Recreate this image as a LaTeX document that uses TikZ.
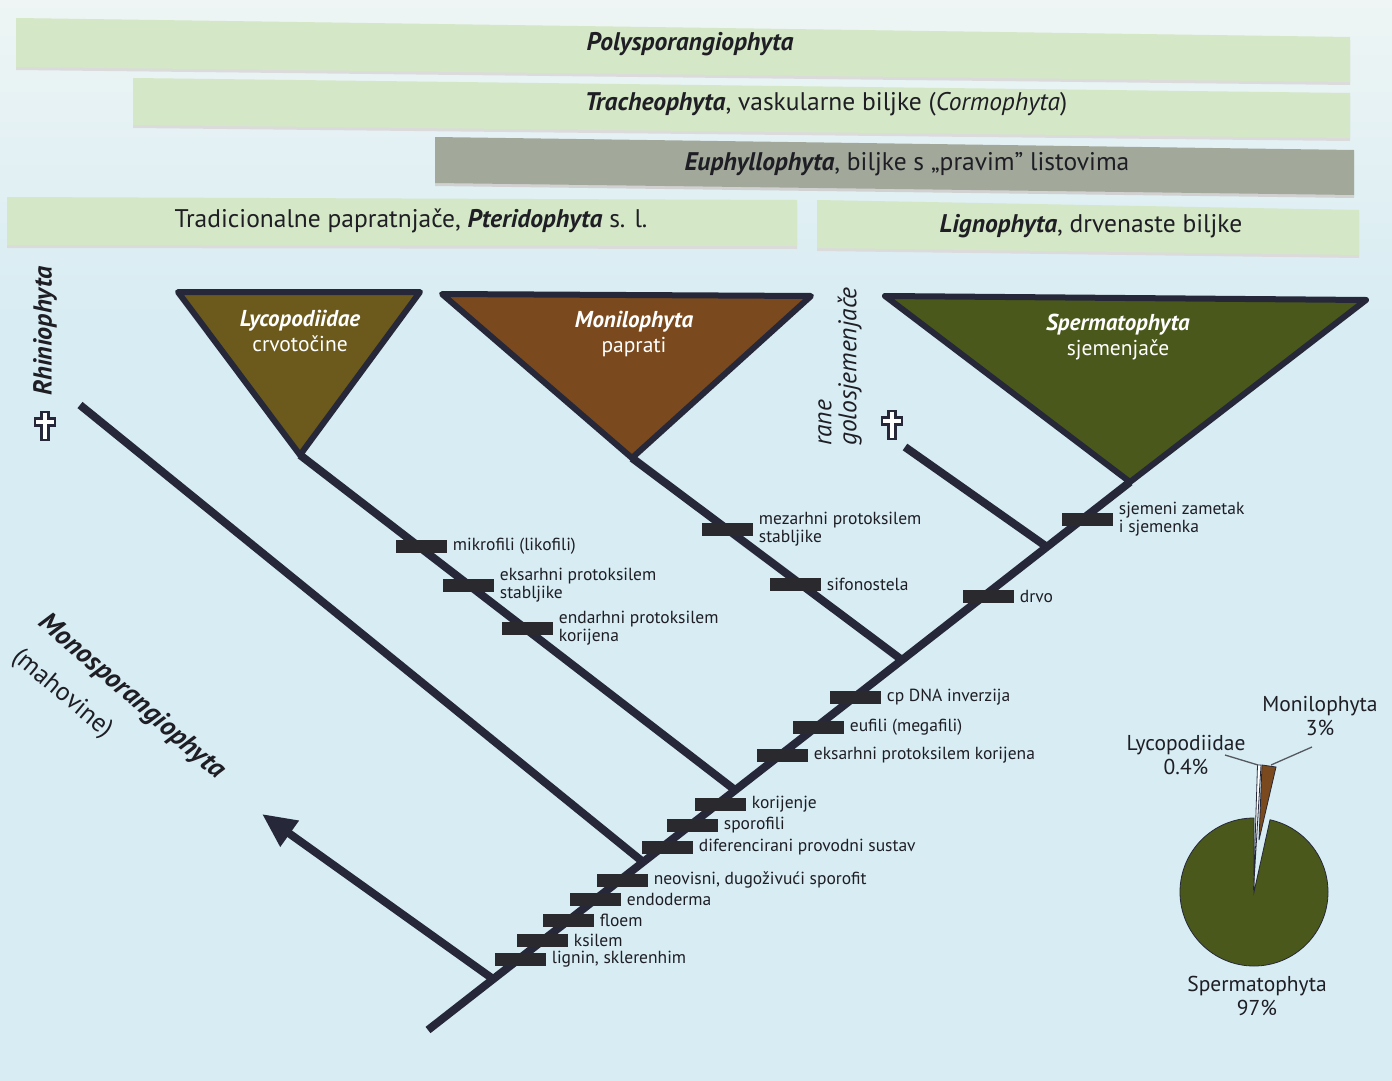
\documentclass[tikz,border=0pt]{standalone}
\usepackage{fontspec}
\setmainfont{PT Sans}
\usetikzlibrary{arrows.meta}
\definecolor{bgtop}{HTML}{EEF5F4}
\definecolor{bgbot}{HTML}{D7ECF3}
\definecolor{barg}{HTML}{D4E7C6}
\definecolor{bargd}{HTML}{A2A99B}
\definecolor{ink}{HTML}{26283A}
\definecolor{synk}{HTML}{2A2A2E}
\definecolor{lyc}{HTML}{6B5A1C}
\definecolor{mon}{HTML}{7A4A1E}
\definecolor{spe}{HTML}{4A591B}
\definecolor{txt}{HTML}{1E1E24}
\definecolor{lead}{HTML}{55585E}
\tikzset{
  bartext/.style={font=\fontsize{25.5}{28}\selectfont, text=txt, inner sep=0pt},
  tritext/.style={font=\fontsize{22}{25.5}\selectfont, text=white, align=center, inner sep=0pt},
  branch/.style={draw=ink, line width=8pt},
  tri/.style={draw=ink, line width=6pt, line join=round},
  syn/.style={fill=synk, minimum width=51pt, minimum height=13pt, inner sep=0pt},
  lbl/.style={font=\fontsize{17.5}{18}\selectfont, text=txt, align=left, inner sep=0pt, anchor=west},
  pietext/.style={font=\fontsize{21.5}{24}\selectfont, text=txt, align=center, inner sep=0pt},
  sidetext/.style={font=\fontsize{26}{28}\selectfont, text=txt, inner sep=0pt},
  grob/.pic={\filldraw[fill=white, draw=ink, line width=2.2pt]
    (-3.5,-14) -- (3.5,-14) -- (3.5,-7.5) -- (10,-7.5) -- (10,-0.5) -- (3.5,-0.5) -- (3.5,14) -- (-3.5,14)
    -- (-3.5,-0.5) -- (-10,-0.5) -- (-10,-7.5) -- (-3.5,-7.5) -- cycle;}
}
\newcommand\synap[3]{%
  \node[syn] (#1) at (#2) {};
  \node[lbl] (#1t) at ([xshift=6pt]#1.east) {#3};}
\newcommand\tribi[1]{{\fontsize{23}{25.5}\selectfont\bfseries\itshape #1}}
\newcommand\trire[1]{{\fontsize{21.5}{25.5}\selectfont #1}}
\begin{document}
\begin{tikzpicture}[x=1pt,y=-1pt]
\useasboundingbox (0,0) rectangle (1392,1081);
\fill[bgbot] (0,0) rectangle (1392,1081);
\shade[top color=bgtop, bottom color=bgbot] (0,0) rectangle (1392,330);

% ---- top bands ----
\fill[black!14] (16,21) -- (1350,40) -- (1350,85) -- (16,70) -- cycle;
\fill[barg] (16,18) -- (1350,37) -- (1350,82) -- (16,67) -- cycle;
\node[bartext] (poly) at (690,44) {\bfseries\itshape Polysporangiophyta};

\fill[black!14] (133,81) -- (1350,96) -- (1350,141) -- (133,128) -- cycle;
\fill[barg] (133,78) -- (1350,93) -- (1350,138) -- (133,125) -- cycle;
\node[bartext] (trach) at (826,104) {\textbf{\textit{Tracheophyta}}, vaskularne biljke (\textit{Cormophyta})};

\fill[black!18] (435,140) -- (1354,153) -- (1354,198) -- (435,186) -- cycle;
\fill[bargd] (435,137) -- (1354,150) -- (1354,195) -- (435,183) -- cycle;
\node[bartext] (euph) at (907,164) {\textbf{\textit{Euphyllophyta}}, biljke s „pravim” listovima};

\fill[black!14] (7,200) -- (797,203) -- (797,249) -- (7,248) -- cycle;
\fill[barg] (7,197) -- (797,200) -- (797,246) -- (7,245) -- cycle;
\node[bartext] (trad) at (411,221) {Tradicionalne papratnjače, \textbf{\textit{Pteridophyta}} s. l.};

\fill[black!14] (817,203) -- (1359,213) -- (1359,258) -- (817,251) -- cycle;
\fill[barg] (817,200) -- (1359,210) -- (1359,255) -- (817,248) -- cycle;
\node[bartext] (lign) at (1091,226) {\textbf{\textit{Lignophyta}}, drvenaste biljke};

% ---- tree coordinates ----
\coordinate (root) at (428,1030);
\coordinate (jarr) at (493,979);
\coordinate (jrhi) at (643,862);
\coordinate (jlyc) at (735,790);
\coordinate (jmon) at (902,660);
\coordinate (jrane) at (1047,547);
\coordinate (speA) at (1130,482);
\coordinate (lycA) at (300,455);
\coordinate (monA) at (632,458);
\coordinate (rhiE) at (80,405);
\coordinate (raneE) at (905,447);
\coordinate (mtip) at (262,814);

% ---- triangles ----
\filldraw[tri, fill=lyc] (178,292) -- (420,292) -- (lycA) -- cycle;
\filldraw[tri, fill=mon] (442,294) -- (811,296) -- (monA) -- cycle;
\filldraw[tri, fill=spe] (885,296) -- (1366,300) -- (speA) -- cycle;
\node[tritext] (lyct) at (300,331) {\tribi{Lycopodiidae}\\\trire{crvotočine}};
\node[tritext] (mont) at (634,334) {\tribi{Monilophyta}\\\trire{paprati}};
\node[tritext] (spet) at (1118,337) {\tribi{Spermatophyta}\\\trire{sjemenjače}};

% ---- branches ----
\draw[branch] (root) -- (speA);
\draw[branch] (rhiE) -- (jrhi);
\draw[branch] (lycA) -- (jlyc);
\draw[branch] (monA) -- (jmon);
\draw[branch] (raneE) -- (jrane);
\draw[branch, -{Triangle[length=34pt,width=30pt]}] (jarr) -- (mtip);

% ---- side labels ----
\node[sidetext, rotate=90, anchor=west] (rhit) at (45,396) {\bfseries\itshape Rhiniophyta};
\pic at (45,426) {grob};
\node[sidetext, rotate=90, anchor=west, align=left, font=\fontsize{25.5}{25}\selectfont\itshape] (ranet) at (840,446) {rane\\golosjemenjače};
\pic at (892,425) {grob};
\node[sidetext, rotate=-41, anchor=west, font=\fontsize{27.5}{28}\selectfont\bfseries\itshape] (monot) at (42,619) {Monosporangiophyta};
\node[sidetext, rotate=-40, anchor=west] (mahot) at (15,654) {(mahovine)};

% ---- synapomorphies ----
\synap{s1}{421,546}{mikrofili (likofili)}
\synap{s2}{468,585}{eksarhni protoksilem\\stabljike}
\synap{s3}{527,628}{endarhni protoksilem\\korijena}
\synap{s4}{727,529}{mezarhni protoksilem\\stabljike}
\synap{s5}{795,584}{sifonostela}
\synap{s6}{988,596}{drvo}
\synap{s7}{1087,519}{sjemeni zametak\\i sjemenka}
\synap{s8}{855,697}{cp DNA inverzija}
\synap{s9}{818,727}{eufili (megafili)}
\synap{s10}{782,755}{eksarhni protoksilem korijena}
\synap{s11}{720,804}{korijenje}
\synap{s12}{692,825}{sporofili}
\synap{s13}{667,847}{diferencirani provodni sustav}
\synap{s14}{622,880}{neovisni, dugoživući sporofit}
\synap{s15}{595,899}{endoderma}
\synap{s16}{568,920}{floem}
\synap{s17}{542,940}{ksilem}
\synap{s18}{520,959}{lignin, sklerenhim}

% ---- pie chart ----
\begin{scope}[shift={(1254,892)}, yscale=-1]
  \filldraw[fill=spe, draw=ink, line width=0.8pt] (0,0) -- (90:74) arc[start angle=90, end angle=437.5, radius=74] -- cycle;
\end{scope}
\coordinate (lyctop) at (1258,765);
\coordinate (montop) at (1271,765);
\filldraw[fill=white, draw=ink, line width=0.8pt] (1253.5,890) -- (1257.5,765) -- (1261,765) -- cycle;
\filldraw[fill=mon, draw=ink, line width=0.8pt] (1259,840) -- (1262,765) -- (1276,767) -- cycle;
\node[pietext] (pmon) at (1320,716) {Monilophyta\\3\%};
\node[pietext] (plyc) at (1186,755) {Lycopodiidae\\0.4\%};
\node[pietext] (pspe) at (1257,996) {Spermatophyta\\97\%};
\coordinate (llyc) at (1225,755);
\coordinate (lmon) at (1312,747);
\draw[lead, line width=1.3pt] (llyc) -- (lyctop);
\draw[lead, line width=1.3pt] (lmon) -- (montop);
\end{tikzpicture}
\end{document}
